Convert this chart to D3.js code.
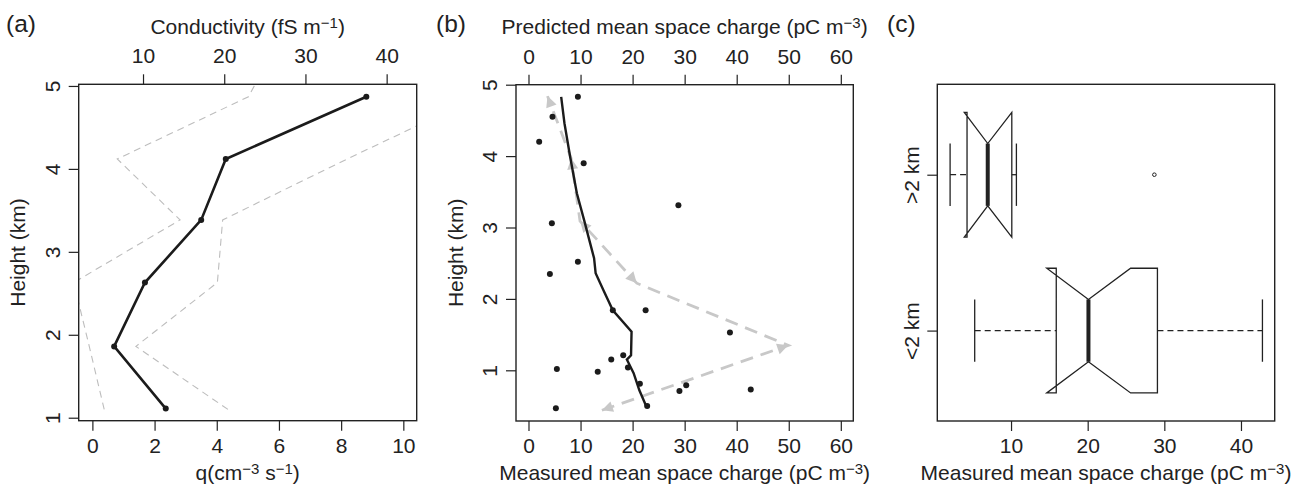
<!DOCTYPE html>
<html>
<head>
<meta charset="utf-8">
<script src="https://cdn.jsdelivr.net/npm/d3@7"></script>
<style>
body { margin: 0; background: #fff; }
text { font-family: "Liberation Sans", Arial, sans-serif; font-size: 21px; fill: #222; }
</style>
</head>
<body>
<div id="chart"></div>
<script>
var width = 1307, height = 491;

// (a) ion production rate q against height
var heightsA = [1.11, 1.86, 2.63, 3.385, 4.12, 4.87];
var qValues = [2.36, 0.70, 1.69, 3.50, 4.29, 8.81];
var boundHeights = [1.10, 1.86, 2.63, 3.385, 4.12, 4.87, 5.10];
var lowerBound = [0.38, -0.10, -0.60, 2.82, 0.80, 5.02, 5.35];
var upperBound = [4.36, 1.40, 4.02, 4.19, 8.20, 12.4, 13.7];
var qTicks = [0, 2, 4, 6, 8, 10];
var condTicks = [10, 20, 30, 40];
var heightTicks = [1, 2, 3, 4, 5];

// (b) measured space charge points, smoothed profile, predicted profile
var measCharge = [9.49, 4.61, 2.05, 10.6, 28.8, 4.49, 9.49, 4.11, 16.2, 22.5, 38.7, 18.2, 15.9, 5.45, 19.1, 13.3, 21.4, 30.3, 29.0, 42.7, 22.8, 5.26];
var measHeight = [4.83, 4.55, 4.20, 3.90, 3.31, 3.06, 2.52, 2.35, 1.84, 1.84, 1.53, 1.21, 1.15, 1.02, 1.04, 0.98, 0.81, 0.79, 0.71, 0.73, 0.50, 0.47];
var trendCharge = [6.28, 6.91, 8.0, 9.29, 10.7, 11.7, 12.6, 12.9, 14.4, 16.2, 19.8, 19.7, 18.9, 20.2, 21.3, 22.6];
var trendHeight = [4.83, 4.46, 3.99, 3.48, 3.10, 2.82, 2.57, 2.36, 2.12, 1.84, 1.54, 1.21, 1.15, 0.96, 0.72, 0.50];
var predCharge = [14.1, 49.9, 20.8, 9.9, 8.2, 3.65];
var predHeight = [0.44, 1.35, 2.22, 3.09, 3.97, 4.84];
var arrowFrom = [1, 0, 3, 2, 3, 4];   // arrow head at point i points away from point arrowFrom[i]
var chargeTicks = [0, 10, 20, 30, 40, 50, 60];

// (c) notched boxplots of measured space charge
var groups = ["<2 km", ">2 km"];
var whiskerLo = [5.26, 2.05];
var quart1 = [15.9, 4.26];
var medians = [20.1, 6.96];
var quart3 = [29.1, 10.1];
var whiskerHi = [42.8, 10.7];
var notchLo = [14.66, 3.9];
var notchHi = [25.6, 10.1];
var outliers = [[], [28.7]];
var boxTicks = [10, 20, 30, 40];

var svg = d3.select("#chart").append("svg")
    .attr("width", width)
    .attr("height", height);

var ink = "#222";

function frame(x0, x1, y0, y1) {
  svg.append("rect")
    .attr("x", x0).attr("y", y0)
    .attr("width", x1 - x0).attr("height", y1 - y0)
    .attr("fill", "none")
    .attr("stroke", ink)
    .attr("stroke-width", 1.4);
}

function tidy(g) {
  g.attr("font-family", null).attr("font-size", null);
  g.select(".domain").remove();
  g.selectAll("line").attr("stroke", ink).attr("stroke-width", 1.2);
  g.selectAll("text").attr("fill", null);
}

function leftAxis(scale, ticks, x0) {
  var g = svg.append("g")
    .attr("transform", "translate(" + x0 + ",0)")
    .call(d3.axisLeft(scale).tickValues(ticks).tickSize(10).tickFormat(d3.format("d")));
  tidy(g);
  g.selectAll("text")
    .attr("x", 0).attr("dy", null)
    .attr("text-anchor", "middle")
    .attr("transform", "translate(-19,0) rotate(-90)");
  return g;
}

function bottomAxis(scale, ticks, y0) {
  var g = svg.append("g")
    .attr("transform", "translate(0," + y0 + ")")
    .call(d3.axisBottom(scale).tickValues(ticks).tickSize(10).tickPadding(7.5).tickFormat(d3.format("d")));
  tidy(g);
}

function topAxis(scale, ticks, y0) {
  var g = svg.append("g")
    .attr("transform", "translate(0," + y0 + ")")
    .call(d3.axisTop(scale).tickValues(ticks).tickSize(10).tickPadding(11).tickFormat(d3.format("d")));
  tidy(g);
}

// text with superscripts, parts = [[text, isSup], ...]
function label(x, y, parts, rotate, anchor) {
  var t = svg.append("text")
    .attr("text-anchor", anchor || "middle")
    .attr("transform", "translate(" + x + "," + y + ")" + (rotate ? " rotate(-90)" : ""));
  parts.forEach(function(p) {
    t.append("tspan")
      .attr("baseline-shift", p[1] ? "38%" : null)
      .style("font-size", p[1] ? "15px" : null)
      .text(p[0]);
  });
  return t;
}

// ---------- panel (a) ----------
var ax0 = 78.7, ax1 = 416.7, ay0 = 84.3, ay1 = 420.7;
var xq = d3.scaleLinear().domain([-0.44, 10.43]).range([ax0, ax1]);
var xc = d3.scaleLinear().domain([2.08, 43.7]).range([ax0, ax1]);
var ya = d3.scaleLinear().domain([0.964, 5.02]).range([ay1, ay0]);

svg.append("clipPath").attr("id", "clipA")
  .append("rect").attr("x", ax0).attr("y", ay0).attr("width", ax1 - ax0).attr("height", ay1 - ay0);

var bandLine = d3.line()
  .x(function(d) { return xq(d[0]); })
  .y(function(d) { return ya(d[1]); });

[lowerBound, upperBound].forEach(function(b) {
  svg.append("path")
    .datum(b.map(function(v, i) { return [v, boundHeights[i]]; }))
    .attr("clip-path", "url(#clipA)")
    .attr("d", bandLine)
    .attr("fill", "none")
    .attr("stroke", "#bdbdbd")
    .attr("stroke-width", 1.1)
    .attr("stroke-dasharray", "7,5");
});

var profileA = qValues.map(function(v, i) { return [v, heightsA[i]]; });
svg.append("path")
  .datum(profileA)
  .attr("d", bandLine)
  .attr("fill", "none")
  .attr("stroke", "#1b1b1b")
  .attr("stroke-width", 2.6);
svg.selectAll(".ptA")
    .data(profileA)
  .enter().append("circle")
  .attr("class", "ptA")
  .attr("cx", function(d) { return xq(d[0]); })
  .attr("cy", function(d) { return ya(d[1]); })
  .attr("r", 3)
  .attr("fill", "#1b1b1b");

frame(ax0, ax1, ay0, ay1);
leftAxis(ya, heightTicks, ax0);
bottomAxis(xq, qTicks, ay1);
topAxis(xc, condTicks, ay0);
label((ax0 + ax1) / 2, 480, [["q(cm", 0], ["−3", 1], [" s", 0], ["−1", 1], [")", 0]]);
label((ax0 + ax1) / 2, 34.3, [["Conductivity (fS m", 0], ["−1", 1], [")", 0]]);
label(25, (ay0 + ay1) / 2, [["Height (km)", 0]], true);
label(6, 32, [["(a)", 0]], false, "start").style("font-size", "24.5px");

// ---------- panel (b) ----------
var bx0 = 516, bx1 = 853.3, by0 = 84.7, by1 = 421;
var xb = d3.scaleLinear().domain([-2.4, 62.4]).range([bx0, bx1]);
var yb = d3.scaleLinear().domain([0.29, 5.0]).range([by1, by0]);

var predPts = predCharge.map(function(v, i) { return [xb(v), yb(predHeight[i])]; });
svg.append("path")
  .datum(predPts)
  .attr("d", d3.line())
  .attr("fill", "none")
  .attr("stroke", "#c8c8c8")
  .attr("stroke-width", 2.8)
  .attr("stroke-dasharray", "13,8");
svg.selectAll(".arrowB")
    .data(predPts)
  .enter().append("path")
  .attr("class", "arrowB")
  .attr("d", "M0,0 L-11,-5.5 L-11,5.5 Z")
  .attr("fill", "#c8c8c8")
  .attr("transform", function(d, i) {
    var f = predPts[arrowFrom[i]];
    var ang = Math.atan2(d[1] - f[1], d[0] - f[0]) * 180 / Math.PI;
    return "translate(" + d[0] + "," + d[1] + ") rotate(" + ang + ")";
  });

svg.append("path")
  .datum(trendCharge.map(function(v, i) { return [v, trendHeight[i]]; }))
  .attr("d", d3.line().x(function(d) { return xb(d[0]); }).y(function(d) { return yb(d[1]); }))
  .attr("fill", "none")
  .attr("stroke", "#1b1b1b")
  .attr("stroke-width", 2.4);

svg.selectAll(".ptB")
    .data(measCharge)
  .enter().append("circle")
  .attr("class", "ptB")
  .attr("cx", function(d) { return xb(d); })
  .attr("cy", function(d, i) { return yb(measHeight[i]); })
  .attr("r", 3)
  .attr("fill", "#1b1b1b");

frame(bx0, bx1, by0, by1);
leftAxis(yb, heightTicks, bx0);
bottomAxis(xb, chargeTicks, by1);
topAxis(xb, chargeTicks, by0);
label((bx0 + bx1) / 2, 480, [["Measured mean space charge (pC m", 0], ["−3", 1], [")", 0]]);
label((bx0 + bx1) / 2, 34.3, [["Predicted mean space charge (pC m", 0], ["−3", 1], [")", 0]]);
label(463, (by0 + by1) / 2, [["Height (km)", 0]], true);
label(436, 32, [["(b)", 0]], false, "start").style("font-size", "24.5px");

// ---------- panel (c) ----------
var cx0 = 937.3, cx1 = 1274.7, cy0 = 84.3, cy1 = 421;
var xcB = d3.scaleLinear().domain([0.38, 44.4]).range([cx0, cx1]);
var ycB = d3.scaleLinear().domain([0.42, 2.58]).range([cy1, cy0]);
var half = ycB(0) - ycB(0.4), cap = ycB(0) - ycB(0.2);

groups.forEach(function(gname, i) {
  var yc = ycB(i + 1);
  var g = svg.append("g").attr("fill", "none").attr("stroke", ink).attr("stroke-width", 1.3);
  // whiskers
  g.append("line").attr("x1", xcB(whiskerLo[i])).attr("x2", xcB(quart1[i]))
    .attr("y1", yc).attr("y2", yc).attr("stroke-dasharray", "6,4");
  g.append("line").attr("x1", xcB(quart3[i])).attr("x2", xcB(whiskerHi[i]))
    .attr("y1", yc).attr("y2", yc).attr("stroke-dasharray", "6,4");
  [whiskerLo[i], whiskerHi[i]].forEach(function(v) {
    g.append("line").attr("x1", xcB(v)).attr("x2", xcB(v))
      .attr("y1", yc - cap).attr("y2", yc + cap);
  });
  // notched box
  var pts = [
    [quart1[i], -1], [quart1[i], 1], [notchLo[i], 1], [medians[i], 0.5], [notchHi[i], 1],
    [quart3[i], 1], [quart3[i], -1], [notchHi[i], -1], [medians[i], -0.5], [notchLo[i], -1], [quart1[i], -1]
  ].map(function(p) { return [xcB(p[0]), yc - p[1] * half]; });
  g.append("path").attr("d", d3.line()(pts) + "Z").attr("stroke-linejoin", "miter");
  // median
  g.append("line").attr("x1", xcB(medians[i])).attr("x2", xcB(medians[i]))
    .attr("y1", yc - half / 2).attr("y2", yc + half / 2).attr("stroke-width", 4);
  outliers[i].forEach(function(v) {
    g.append("circle").attr("cx", xcB(v)).attr("cy", yc).attr("r", 1.8).attr("stroke-width", 1);
  });
});

frame(cx0, cx1, cy0, cy1);
bottomAxis(xcB, boxTicks, cy1);
var gy = svg.append("g")
  .attr("transform", "translate(" + cx0 + ",0)")
  .call(d3.axisLeft(ycB).tickValues([1, 2]).tickSize(10).tickFormat(function(d) { return groups[d - 1]; }));
tidy(gy);
gy.selectAll("text")
  .attr("x", 0).attr("dy", null)
  .attr("text-anchor", "middle")
  .attr("transform", "translate(-18,0) rotate(-90)");
label((cx0 + cx1) / 2, 480, [["Measured mean space charge (pC m", 0], ["−3", 1], [")", 0]]);
label(887, 32, [["(c)", 0]], false, "start").style("font-size", "24.5px");
</script>
</body>
</html>
